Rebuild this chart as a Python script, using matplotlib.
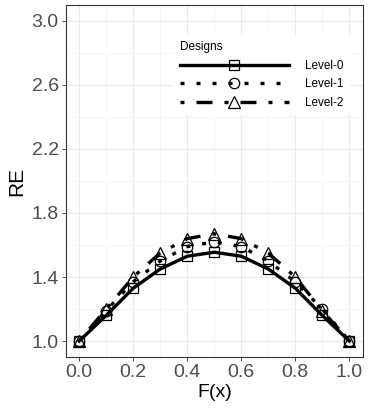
import numpy as np
import matplotlib
matplotlib.use("Agg")
import matplotlib.pyplot as plt
from matplotlib.ticker import MultipleLocator

plt.rcParams["font.family"] = ["Liberation Sans", "DejaVu Sans"]

# data
fx = [0.0, 0.1, 0.2, 0.3, 0.4, 0.5, 0.6, 0.7, 0.8, 0.9, 1.0]
level0 = [1.00, 1.16, 1.33, 1.45, 1.53, 1.555, 1.53, 1.45, 1.33, 1.16, 1.00]
level1 = [1.00, 1.19, 1.37, 1.50, 1.59, 1.62, 1.59, 1.50, 1.37, 1.20, 1.00]
level2 = [1.00, 1.20, 1.40, 1.55, 1.64, 1.67, 1.64, 1.55, 1.40, 1.19, 1.00]
labels = ["Level-0", "Level-1", "Level-2"]

styles = [
    dict(ls="-", marker="s", ms=7.5),
    dict(ls=(0, (1.2, 3.6)), marker="o", ms=7.5),
    dict(ls=(0, (1.2, 3.6, 4.8, 3.6)), marker="^", ms=9),
]

fig = plt.figure(figsize=(3.71, 4.09), dpi=100)
ax = fig.add_axes([0.177, 0.127, 0.801, 0.861])

for ys, lab, st in zip([level0, level1, level2], labels, styles):
    ax.plot(fx, ys, color="black", lw=2.4, ls=st["ls"], marker=st["marker"],
            ms=st["ms"], mfc="none", mec="black", mew=0.9, label=lab,
            dash_capstyle="butt")

ax.set_xlim(-0.05, 1.05)
ax.set_ylim(0.9, 3.1)
ax.set_xticks([0.0, 0.2, 0.4, 0.6, 0.8, 1.0])
ax.set_yticks([1.0, 1.4, 1.8, 2.2, 2.6, 3.0])
ax.xaxis.set_minor_locator(MultipleLocator(0.1))
ax.yaxis.set_minor_locator(MultipleLocator(0.2))
ax.grid(True, which="major", color="#EBEBEB", lw=0.8)
ax.grid(True, which="minor", color="#F2F2F2", lw=0.5)
ax.set_axisbelow(True)
ax.tick_params(which="minor", length=0)
ax.tick_params(which="major", length=3, color="#333333", width=0.6,
               labelsize=14, labelcolor="#4D4D4D", pad=2)
for s in ax.spines.values():
    s.set_color("#333333")
    s.set_linewidth(0.8)

ax.set_xlabel("F(x)", fontsize=14, labelpad=2)
ax.set_ylabel("RE", fontsize=15, labelpad=4)

leg = ax.legend(title="Designs", loc="upper left", bbox_to_anchor=(0.345, 0.93),
                handlelength=9.2, numpoints=1, fontsize=8.5, title_fontsize=8.5,
                frameon=True, fancybox=False, edgecolor="none", framealpha=1,
                borderpad=0.5, labelspacing=0.55, handletextpad=1.4)
leg._legend_box.align = "left"

fig.savefig("out.png", dpi=100)
